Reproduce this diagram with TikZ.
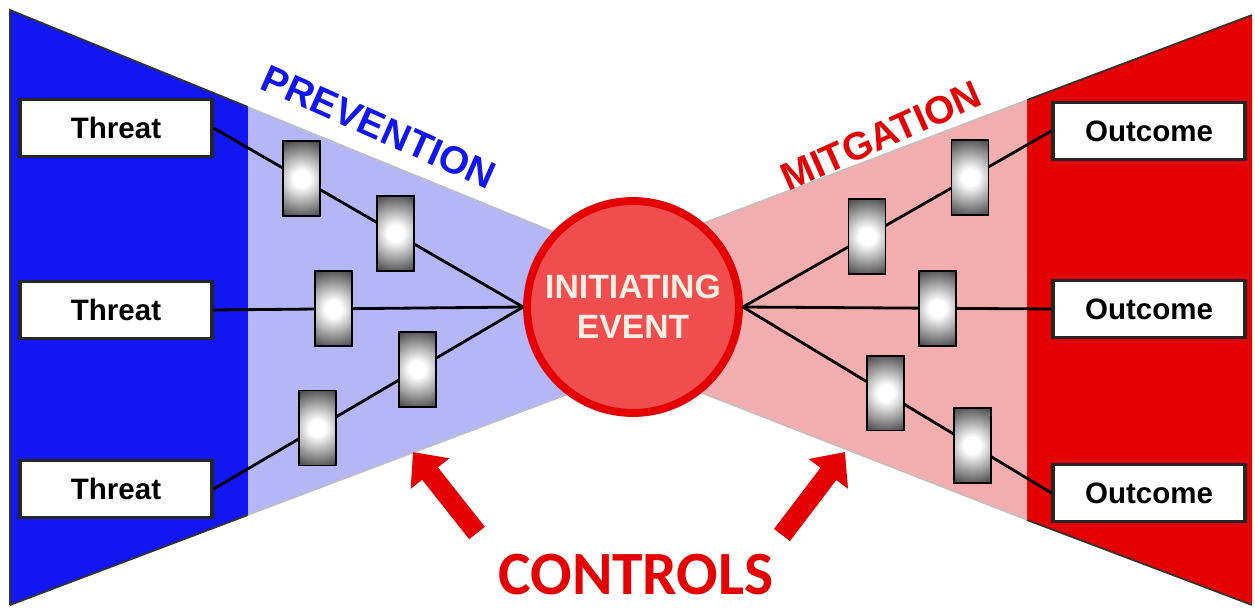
\documentclass[tikz,border=0pt]{standalone}
\usepackage{fontspec}
\setmainfont{Liberation Sans}
\newfontfamily\ctrlfont{Carlito}
\usetikzlibrary{arrows.meta}

\definecolor{bowblue}{RGB}{18,22,240}
\definecolor{bowlightblue}{RGB}{180,182,245}
\definecolor{bowred}{RGB}{228,0,0}
\definecolor{bowpink}{RGB}{242,174,174}
\definecolor{eventfill}{RGB}{240,78,78}
\definecolor{eventtext}{RGB}{255,238,228}

\pgfdeclareradialshading{barrierglow}{\pgfpoint{0bp}{0bp}}{color(0bp)=(white); color(5bp)=(white); color(32bp)=(black); color(50bp)=(black)}

\tikzset{
  endbox/.style={draw=black!85,line width=1.8pt,fill=white,minimum width=3.84cm,
    minimum height=1.14cm,inner sep=0pt,font=\fontsize{16.8}{18}\selectfont\bfseries},
  barrier/.style={draw=black,line width=1pt,minimum width=0.74cm,minimum height=1.5cm,inner sep=0pt,
    path picture={\shade[shading=barrierglow] (path picture bounding box.center) circle (0.84cm);}},
  wire/.style={line width=1.6pt,black},
  ctrlarrow/.style={bowred,line width=0.4cm,-{Triangle[width=0.95cm,length=0.55cm]}},
}

\begin{document}
\begin{tikzpicture}[x=0.02cm,y=-0.02cm]
     \useasboundingbox (0,0) rectangle (1255,608);
     %left wing
     \fill[bowblue] (10,10) -- (248,107) -- (248,515) -- (10,605) -- cycle;
     \fill[bowlightblue] (248,107) -- (640,267) -- (640,367) -- (248,515) -- cycle;
     \draw[black!80,line width=1pt] (10,605) -- (10,10) -- (248,107);
     \draw[black!80,line width=1pt] (248,515) -- (10,605);
     \draw[black!25,line width=0.8pt] (248,107) -- (640,267);
     \draw[black!25,line width=0.8pt] (248,515) -- (640,367);
     %right wing
     \fill[bowred] (1027,100) -- (1252,15) -- (1252,605) -- (1027,520) -- cycle;
     \fill[bowpink] (630,251) -- (1027,100) -- (1027,520) -- (630,365) -- cycle;
     \draw[black!80,line width=1pt] (1027,100) -- (1252,15);
     \draw[black!80,line width=1pt] (1027,520) -- (1252,605);
     \draw[black!25,line width=0.8pt] (630,251) -- (1027,100);
     \draw[black!25,line width=0.8pt] (630,365) -- (1027,520);

     \node[circle,draw=bowred,fill=eventfill,line width=4.5pt,minimum size=4.24cm,inner sep=0pt,
       text=eventtext,align=center,font=\fontsize{19.2}{22.8}\selectfont\bfseries]
       (event) at (633,307) {INITIATING\\EVENT};

     \foreach \n/\y in {1/128,2/310,3/489}
       \node[endbox] (t\n) at (116,\y) {Threat};
     \foreach \n/\y in {1/131,2/309,3/493}
       \node[endbox] (o\n) at (1149,\y) {Outcome};

     %prevention side
     \draw[wire] (t1.east) -- node[barrier,pos=0.284] (p1) {} node[barrier,pos=0.588] (p2) {} (event.west);
     \draw[wire] (t2.east) -- node[barrier,pos=0.387] (p3) {} (event.west);
     \draw[wire] (t3.east) -- node[barrier,pos=0.335] (p4) {} node[barrier,pos=0.658] (p5) {} (event.west);
     %mitigation side
     \draw[wire] (event.east) -- node[barrier,pos=0.402] (m1) {} node[barrier,pos=0.736] (m2) {} (o1.west);
     \draw[wire] (event.east) -- node[barrier,pos=0.63] (m3) {} (o2.west);
     \draw[wire] (event.east) -- node[barrier,pos=0.463] (m4) {} node[barrier,pos=0.743] (m5) {} (o3.west);

     \node[rotate=-24,inner sep=0pt,text=bowblue,font=\fontsize{22}{24}\selectfont\bfseries] (prev) at (379,127) {PREVENTION};
     \node[rotate=24,inner sep=0pt,text=bowred,font=\fontsize{22}{24}\selectfont\bfseries] (mitg) at (881,136) {MITGATION};

     \node[inner sep=0pt,text=bowred,font=\ctrlfont\fontsize{35}{38}\selectfont\bfseries] (controls) at (636,575) {CONTROLS};
     \coordinate (ltail) at (477,533);
     \coordinate (ltip) at (413,452);
     \coordinate (rtail) at (782,535);
     \coordinate (rtip) at (845,452);
     \draw[ctrlarrow] (ltail) -- (ltip);
     \draw[ctrlarrow] (rtail) -- (rtip);
\end{tikzpicture}
\end{document}
